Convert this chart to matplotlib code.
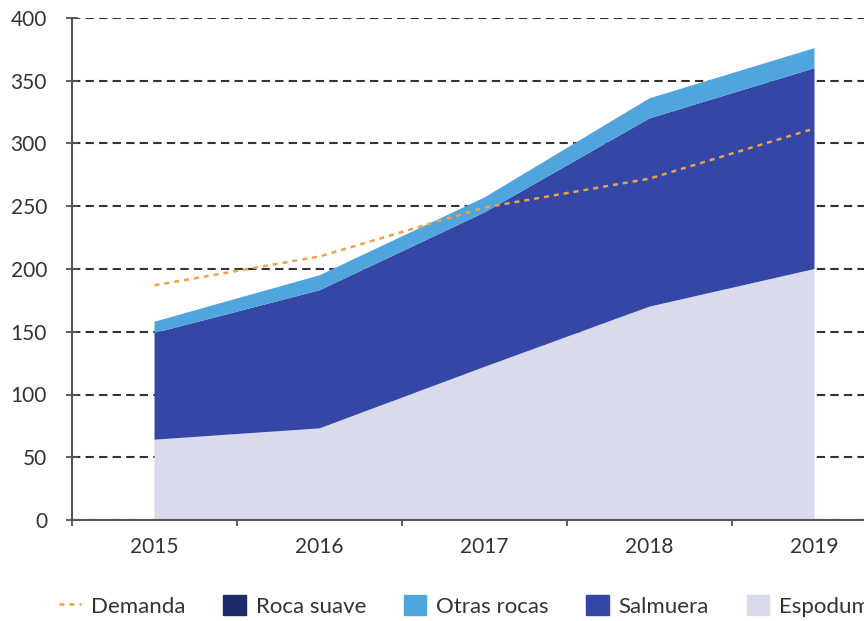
import numpy as np
import matplotlib.pyplot as plt
from matplotlib.lines import Line2D
from matplotlib.patches import Patch

years = ["2015", "2016", "2017", "2018", "2019"]
espodumeno = [64, 73, 122, 170, 200]
salmuera = [85, 110, 123, 150, 160]
otras_rocas = [9, 12, 12, 16, 16]
roca_suave = [0, 0, 0, 0, 0]
demanda = [187, 210, 249, 272, 312]

c_esp = "#d9daec"
c_sal = "#3447a6"
c_otr = "#4fa5dc"
c_roc = "#1f2c6b"
c_dem = "#f0a04b"

plt.rcParams['font.family'] = ['Lato', 'DejaVu Sans']

fig = plt.figure(figsize=(8.64, 6.21), dpi=100)
ax = fig.add_axes([72/864, 101/621, 825/864, 502/621])

x = np.arange(len(years))
ax.stackplot(x, espodumeno, salmuera, otras_rocas, roca_suave,
             colors=[c_esp, c_sal, c_otr, c_roc], zorder=2)
ax.plot(x, demanda, color=c_dem, linestyle=(0, (2, 2)), linewidth=1.8, zorder=3)

ax.set_xlim(-0.5, 4.5)
ax.set_ylim(0, 400)
ax.set_yticks(range(0, 401, 50))
ax.yaxis.grid(True, linestyle=(0, (4, 2.5)), color="#333333", linewidth=1.5, zorder=0)
ax.set_axisbelow(True)

ax.set_xticks(x)
ax.set_xticklabels(years)
ax.set_xticks(np.arange(-0.5, 4.6, 1), minor=True)
ax.tick_params(axis='x', which='major', length=0, pad=12, labelsize=15, colors="#333333")
ax.tick_params(axis='x', which='minor', length=8, direction='inout', color="#555555", width=1.3)
ax.tick_params(axis='y', length=8, direction='inout', color="#555555", width=1.3,
               labelsize=15, labelcolor="#333333", pad=14)

for s in ['top', 'right']:
    ax.spines[s].set_visible(False)
for s in ['left', 'bottom']:
    ax.spines[s].set_color("#555555")
    ax.spines[s].set_linewidth(1.5)

handles = [Line2D([], [], color=c_dem, linestyle=(0, (2, 2)), linewidth=1.8),
           Patch(color=c_roc), Patch(color=c_otr), Patch(color=c_sal), Patch(color=c_esp)]
labels = ["Demanda", "Roca suave", "Otras rocas", "Salmuera", "Espodumeno"]
fig.legend(handles, labels, loc='center left', bbox_to_anchor=(0.045, 0.024), ncol=5,
           frameon=False, fontsize=16, handlelength=1.0, handleheight=1.0,
           handletextpad=0.45, columnspacing=1.7, labelcolor="#333333")

plt.savefig("out.png")
